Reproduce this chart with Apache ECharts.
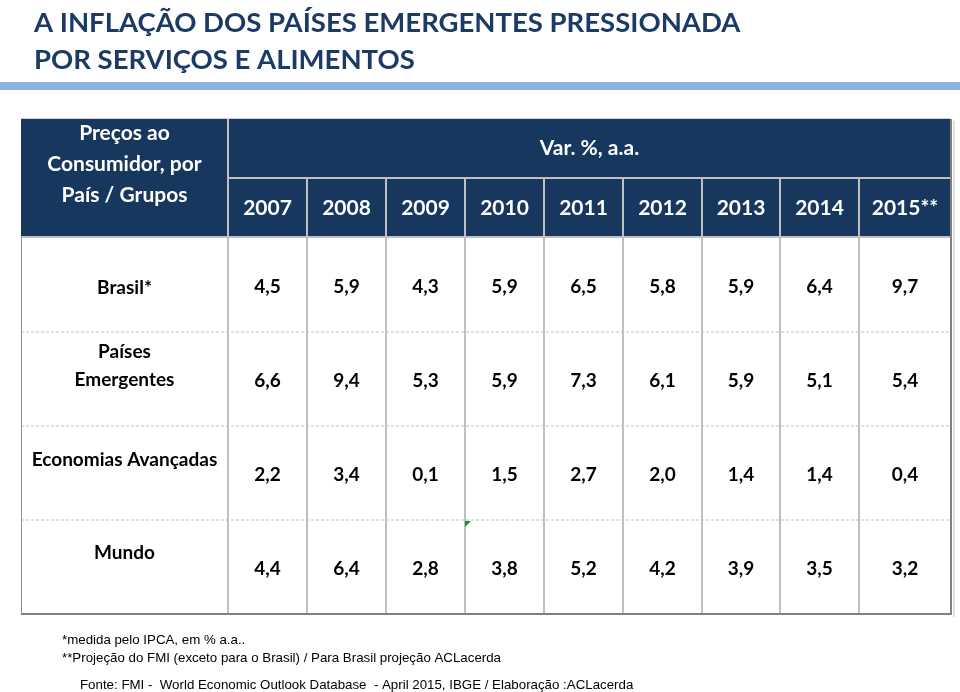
<!DOCTYPE html>
<html><head><meta charset="utf-8">
<script src="https://cdn.jsdelivr.net/npm/echarts@6/dist/echarts.min.js"></script>
<style>html,body{margin:0;padding:0;background:#fff}#c{width:960px;height:692px}</style>
</head><body><div id="c"></div>
<script>
// ---------- data ----------
const titleLines = ['A INFLAÇÃO DOS PAÍSES EMERGENTES PRESSIONADA', 'POR SERVIÇOS E ALIMENTOS'];
const headerLabel = 'Preços ao\nConsumidor, por\nPaís / Grupos';
const headerUnit = 'Var. %, a.a.';
const years = ['2007', '2008', '2009', '2010', '2011', '2012', '2013', '2014', '2015**'];
const rowLabels = ['Brasil*', 'Países\nEmergentes', 'Economias Avançadas', 'Mundo'];
const brasil     = [4.5, 5.9, 4.3, 5.9, 6.5, 5.8, 5.9, 6.4, 9.7];
const emergentes = [6.6, 9.4, 5.3, 5.9, 7.3, 6.1, 5.9, 5.1, 5.4];
const avancadas  = [2.2, 3.4, 0.1, 1.5, 2.7, 2.0, 1.4, 1.4, 0.4];
const mundo      = [4.4, 6.4, 2.8, 3.8, 5.2, 4.2, 3.9, 3.5, 3.2];
const notes = [
  '*medida pelo IPCA, em % a.a..',
  '**Projeção do FMI (exceto para o Brasil) / Para Brasil projeção ACLacerda'
];
const source = 'Fonte: FMI -  World Economic Outlook Database  - April 2015, IBGE / Elaboração :ACLacerda';

// ---------- layout / style ----------
const colW = [207, 79, 79, 79, 79, 79, 79, 78, 79, 92];
const rowH = [59, 59, 95, 94, 94, 94];
const colEdge = [0]; colW.forEach(w => colEdge.push(colEdge[colEdge.length - 1] + w));
const rowEdge = [0]; rowH.forEach(h => rowEdge.push(rowEdge[rowEdge.length - 1] + h));
const TOTAL_W = colEdge[colEdge.length - 1], TOTAL_H = rowEdge[rowEdge.length - 1];
const NAVY = '#17375E', GRID = '#BFBFBF', FRAME = '#808080';
const CAL = 'Lato, "Open Sans", sans-serif';
const NOTE_FONT = '13.3px "Liberation Sans", Arial, sans-serif';
const labelOffset = [3, -13, -13, -14];

const seriesRows = [brasil, emergentes, avancadas, mundo];
const valueData = [];
seriesRows.forEach((arr, r) => arr.forEach((v, c) => valueData.push([c, r, v])));
const labelData = rowLabels.map((t, r) => [0, r, t]);
const yearData = years.map((y, c) => [c, 0, y]);

function rectOf(api, c0, c1, r0, r1) {
  const a = api.coord([colEdge[c0], rowEdge[r0]]);
  const b = api.coord([colEdge[c1], rowEdge[r1]]);
  return { x: a[0], y: a[1], width: b[0] - a[0], height: b[1] - a[1] };
}
function txt(text, x, y, fill, size, extra) {
  return { type: 'text', z2: 10, style: Object.assign({
    text, x, y, fill, font: 'bold ' + size + 'px ' + CAL, align: 'center', verticalAlign: 'middle'
  }, extra || {}) };
}
function line(api, x0, y0, x1, y1, stroke, width, dash) {
  const a = api.coord([x0, y0]), b = api.coord([x1, y1]);
  return { type: 'line', z2: 20, shape: { x1: a[0], y1: a[1], x2: b[0], y2: b[1] },
    style: { stroke, lineWidth: width, lineDash: dash || null } };
}

const chart = echarts.init(document.getElementById('c'), null, { renderer: 'canvas' });
chart.setOption({
  animation: false,
  backgroundColor: '#fff',
  title: {
    text: titleLines.join('\n'), left: 29, top: 0,
    textStyle: { fontFamily: CAL, fontWeight: 'bold', fontSize: 27.5, lineHeight: 36.5, color: '#1B3A66' }
  },
  graphic: [
    { type: 'rect', left: 0, top: 82, shape: { width: 960, height: 8 }, style: { fill: '#8DB3E2' } },
    { type: 'text', left: 62, top: 634, style: { text: notes[0], font: NOTE_FONT, fill: '#000' } },
    { type: 'text', left: 62, top: 652, style: { text: notes[1], font: NOTE_FONT, fill: '#000' } },
    { type: 'text', left: 80, top: 679, style: { text: source, font: NOTE_FONT, fill: '#000' } },
    { type: 'polygon', z: 100, shape: { points: [[465, 521], [471, 521], [465, 527]] }, style: { fill: '#1E8C2E' } }
  ],
  grid: { left: 21, top: 119, width: TOTAL_W, height: TOTAL_H },
  xAxis: { type: 'value', min: 0, max: TOTAL_W, show: false },
  yAxis: { type: 'value', min: 0, max: TOTAL_H, inverse: true, show: false },
  series: [
    { // header
      type: 'custom', data: [[0, 0]], silent: true,
      renderItem: function (params, api) {
        const full = rectOf(api, 0, colW.length, 0, 2);
        const lab = rectOf(api, 0, 1, 0, 2);
        const unit = rectOf(api, 1, colW.length, 0, 1);
        return { type: 'group', children: [
          { type: 'rect', shape: full, style: { fill: NAVY } },
          txt(headerLabel, lab.x + lab.width / 2, lab.y + lab.height / 2 - 14, '#fff', 21, { lineHeight: 31 }),
          txt(headerUnit, unit.x + unit.width / 2, unit.y + unit.height / 2, '#fff', 21)
        ] };
      }
    },
    { // years
      type: 'custom', data: yearData, silent: true,
      renderItem: function (params, api) {
        const c = api.value(0);
        const r = rectOf(api, c + 1, c + 2, 1, 2);
        return txt(years[c], r.x + r.width / 2, r.y + r.height / 2 + 1, '#fff', 21);
      }
    },
    { // row labels
      type: 'custom', data: labelData, silent: true,
      renderItem: function (params, api) {
        const ri = api.value(1);
        const r = rectOf(api, 0, 1, ri + 2, ri + 3);
        return txt(rowLabels[ri], r.x + r.width / 2, r.y + r.height / 2 + labelOffset[ri], '#000', 19, { lineHeight: 28 });
      }
    },
    { // values
      type: 'custom', data: valueData, silent: true,
      renderItem: function (params, api) {
        const c = api.value(0), ri = api.value(1), v = api.value(2);
        const r = rectOf(api, c + 1, c + 2, ri + 2, ri + 3);
        return txt(v.toFixed(1).replace('.', ','), r.x + r.width / 2, r.y + r.height / 2 + 2, '#000', 19);
      }
    },
    { // grid lines
      type: 'custom', data: [[0, 0]], silent: true, z: 5,
      renderItem: function (params, api) {
        const ch = [];
        const nC = colW.length, nR = rowH.length;
        for (let r = 3; r < nR; r++) ch.push(line(api, 0, rowEdge[r], TOTAL_W, rowEdge[r], GRID, 1, [3, 2]));
        ch.push(line(api, colEdge[1], 0, colEdge[1], TOTAL_H, GRID, 2));
        for (let c = 2; c < nC; c++) ch.push(line(api, colEdge[c], rowEdge[1], colEdge[c], TOTAL_H, GRID, 2));
        ch.push(line(api, colEdge[1], rowEdge[1], TOTAL_W, rowEdge[1], GRID, 2));
        ch.push(line(api, 0, rowEdge[2], TOTAL_W, rowEdge[2], GRID, 2));
        ch.push(line(api, 0, -0.5, TOTAL_W, -0.5, '#D0D0D0', 1));
        ch.push(line(api, 0.5, rowEdge[2], 0.5, TOTAL_H, '#909090', 1));
        ch.push(line(api, TOTAL_W, 0, TOTAL_W, TOTAL_H + 1, FRAME, 2));
        ch.push(line(api, 0, TOTAL_H, TOTAL_W + 1, TOTAL_H, FRAME, 2));
        ch.push(line(api, TOTAL_W + 3, 2, TOTAL_W + 3, TOTAL_H + 3, '#E0E0E0', 2));
        return { type: 'group', children: ch };
      }
    }
  ]
});
</script></body></html>
